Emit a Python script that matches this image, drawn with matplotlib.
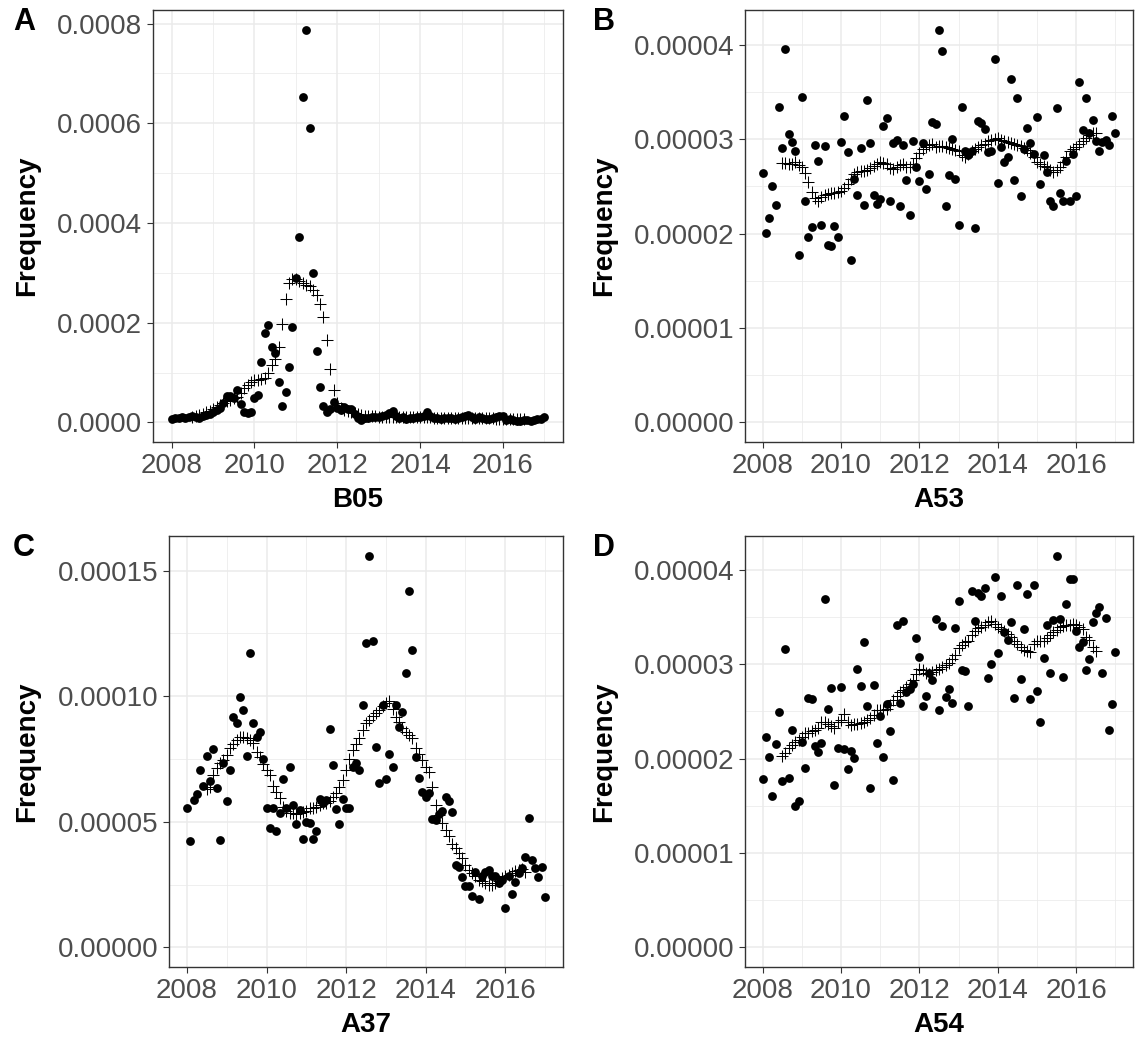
import numpy as np
import pandas as pd
import matplotlib
matplotlib.use("Agg")
import matplotlib.pyplot as plt
import matplotlib.ticker as ticker

DPI = 100
WIDTH_PX = 1137
HEIGHT_PX = 1041

plt.rcParams['font.family'] = ['Liberation Sans', 'DejaVu Sans']

# ─────────────────────────────────────────────────────────────────
#  数据（单位 1e-6，月度，2008-01 .. 2017-01；十字为 13 月移动平均）
# ─────────────────────────────────────────────────────────────────
UNIT = 1e-6
dates = pd.date_range('2008-01-01', periods=109, freq='MS')
ma_dates = pd.date_range('2008-07-01', periods=97, freq='MS')

b05_points = [
    6, 9, 8, 10, 9, 11, 12, 10, 9, 12, 14, 17,
    20, 24, 29, 39, 52, 53, 49, 65, 37, 20, 19, 21,
    49, 55, 122, 179, 196, 151, 139, 80, 32, 60, 112, 192,
    289, 371, 652, 788, 590, 299, 144, 71, 32, 21, 27, 41,
    29, 25, 30, 26, 27, 16, 8, 5, 8, 9, 10, 11,
    10, 12, 15, 18, 22, 12, 8, 10, 7, 8, 9, 11,
    10, 12, 20, 12, 9, 8, 7, 8, 9, 8, 6, 9,
    11, 13, 15, 10, 6, 11, 9, 6, 7, 8, 10, 12,
    13, 4, 6, 4, 3, 2, 4, 5, 3, 4, 6, 7,
    10,
]
b05_ma = [
    10, 12, 14, 17, 20, 23, 26, 30, 34, 38, 42, 45, 48, 51,
    59, 69, 75, 80, 84, 86, 88, 90, 99, 115, 128, 152,
    198, 248, 280, 287, 288, 283, 279, 276, 273, 266, 256, 238, 212, 166, 107, 64,
    38, 28, 24, 22, 20, 18, 16, 14, 13, 12,
    12, 12, 11, 11, 11, 11, 11, 10, 10, 10, 10, 10,
    10, 10, 10, 10, 10, 10, 9, 9, 9, 9, 9, 9,
    9, 9, 9, 9, 9, 9, 9, 9, 8, 8, 8, 8,
    7, 7, 7, 7, 6, 6, 6, 6, 6,
]

a53_points = [
    26.4, 20.1, 21.7, 25.0, 23.0, 33.4, 29.1, 39.5, 30.5, 29.7, 28.7, 17.7,
    34.5, 23.4, 19.6, 20.7, 29.4, 27.7, 20.9, 29.3, 18.8, 18.7, 20.8, 19.6,
    29.7, 32.5, 28.6, 17.2, 25.8, 24.1, 29.1, 23.0, 34.1, 29.6, 24.1, 23.1,
    23.7, 31.4, 32.2, 23.5, 29.6, 29.9, 22.9, 29.4, 25.7, 22.0, 29.8, 27.1,
    25.6, 29.6, 24.7, 26.3, 31.8, 31.6, 41.6, 39.3, 22.9, 26.2, 30.0, 25.8,
    20.9, 33.4, 28.7, 28.3, 28.7, 20.6, 31.9, 31.7, 31.1, 28.6, 28.7, 38.5,
    25.4, 29.2, 27.6, 28.1, 36.4, 25.7, 34.4, 24.0, 29.0, 31.2, 29.6, 28.4,
    32.3, 25.2, 28.3, 26.5, 23.4, 22.9, 33.3, 24.3, 23.4, 27.7, 23.4, 28.4,
    24.0, 36.1, 31.0, 34.4, 30.6, 32.0, 29.8, 28.7, 29.7, 29.9, 29.4, 32.4,
    30.7,
]
a53_ma = [
    27.5, 27.5, 27.4, 27.4, 27.6, 27.3, 27.1, 26.4, 25.5, 24.4, 23.8, 23.5,
    23.9, 24.1, 24.2, 24.3, 24.3, 24.4, 24.5, 24.8, 25.3, 25.8, 26.3, 26.5,
    26.6, 26.6, 26.7, 26.9, 27.2, 27.4, 27.6, 27.5, 27.4, 26.9, 26.8, 27.1,
    27.3, 27.4, 27.1, 27.1, 27.4, 28.0, 28.5, 29.0, 29.2, 29.4, 29.5, 29.2,
    29.3, 29.3, 29.2, 29.1, 29.0, 28.9, 28.7, 28.3, 28.1, 28.4, 28.7, 29.0,
    29.2, 29.4, 29.5, 29.8, 29.9, 30.0, 30.1, 29.9, 29.8, 29.7, 29.6, 29.5,
    29.4, 29.3, 29.1, 28.8, 28.5, 28.1, 27.6, 27.4, 27.2, 27.0, 26.7, 26.5,
    26.7, 27.1, 27.6, 28.1, 28.7, 29.0, 29.2, 29.5, 29.8, 30.1, 30.4, 30.6,
    30.7,
]

a37_points = [
    55.4, 42.2, 58.5, 61.1, 70.6, 64.3, 76.2, 66.4, 78.8, 63.4, 42.9, 73.3,
    58.1, 70.6, 91.8, 89.4, 99.7, 94.7, 76.2, 117.2, 89.4, 83.9, 85.8, 74.9,
    55.7, 47.5, 55.7, 46.2, 53.7, 66.9, 55.5, 72.0, 56.7, 49.1, 54.8, 43.1,
    50.1, 49.7, 43.1, 46.2, 59.0, 57.4, 58.5, 86.9, 72.6, 55.0, 49.1, 59.0,
    55.7, 55.7, 72.0, 73.5, 70.6, 96.4, 121.2, 156.0, 121.8, 79.6, 65.3, 96.7,
    67.1, 77.0, 72.0, 96.7, 87.8, 93.7, 109.4, 142.1, 118.3, 75.7, 67.3, 62.0,
    60.0, 61.4, 51.1, 50.8, 53.0, 54.5, 60.0, 58.4, 53.8, 32.9, 32.0, 28.0,
    24.3, 24.3, 20.6, 29.9, 19.4, 28.3, 29.9, 30.9, 28.3, 28.3, 25.7, 26.7,
    15.5, 28.3, 21.4, 26.0, 29.6, 31.6, 36.0, 51.5, 34.9, 31.6, 27.9, 32.0,
    20.1,
]
a37_ma = [
    63.0, 63.8, 68.6, 71.3, 73.5, 74.6, 76.6, 79.2, 81.0, 82.5, 83.9, 83.9,
    83.2, 82.5, 81.5, 77.9, 75.9, 73.0, 70.6, 68.6, 64.3, 62.0, 59.4, 56.1,
    54.5, 53.7, 53.4, 53.2, 53.4, 54.1, 54.5, 55.4, 55.7, 56.1, 56.7, 57.4,
    57.4, 58.1, 60.0, 61.4, 63.8, 66.7, 70.6, 75.0, 78.5, 81.0, 83.5, 86.5,
    89.2, 90.5, 92.1, 93.4, 94.7, 96.0, 97.4, 98.1, 95.1, 91.8, 89.8, 87.2,
    85.8, 84.5, 83.2, 79.2, 77.2, 74.6, 72.0, 70.0, 63.8, 56.7, 52.8, 49.7,
    46.8, 44.2, 41.3, 39.5, 37.6, 35.6, 32.9, 31.0, 29.6, 28.3, 27.0, 26.3,
    25.7, 25.0, 25.0, 25.7, 26.3, 27.6, 28.3, 29.0, 29.6, 30.3, 30.7, 31.2,
    29.9,
]

a54_points = [
    17.8, 22.3, 20.2, 16.0, 21.5, 24.9, 17.6, 31.6, 17.9, 23.0, 15.0, 15.5,
    21.8, 19.0, 26.4, 26.3, 21.3, 20.7, 21.7, 36.9, 25.3, 27.5, 17.2, 21.1,
    27.6, 21.0, 18.9, 20.8, 20.1, 29.5, 27.7, 32.3, 25.6, 16.9, 27.8, 21.7,
    24.5, 20.2, 25.8, 22.9, 17.7, 34.1, 25.9, 34.6, 27.0, 27.4, 27.9, 32.8,
    30.8, 25.6, 26.6, 29.1, 28.3, 34.8, 25.1, 34.0, 26.5, 27.4, 25.9, 33.8,
    36.7, 29.4, 29.3, 25.6, 37.7, 34.6, 37.5, 37.2, 38.1, 28.5, 30.0, 39.2,
    31.2, 37.2, 33.4, 32.6, 34.5, 26.4, 38.4, 28.4, 33.7, 37.4, 26.3, 38.4,
    27.2, 23.9, 30.7, 34.1, 29.1, 34.7, 41.5, 34.8, 28.6, 36.4, 39.0, 39.0,
    33.5, 31.8, 32.4, 29.4, 30.6, 34.5, 35.4, 36.1, 29.1, 34.9, 23.0, 25.8,
    31.3,
]
a54_ma = [
    20.3, 20.6, 21.1, 21.4, 21.8, 22.0, 22.3, 22.7, 22.7, 22.9, 23.0, 23.2,
    23.9, 23.9, 23.7, 23.4, 23.2, 23.9, 24.1, 24.7, 23.9, 23.6, 23.7, 23.7,
    23.8, 23.9, 24.1, 24.3, 24.6, 25.1, 25.1, 25.1, 25.3, 25.7, 26.2, 26.6,
    27.0, 27.3, 27.6, 27.9, 28.3, 29.0, 29.5, 29.4, 29.1, 29.0, 29.2, 29.4,
    29.5, 29.7, 29.9, 30.1, 30.6, 31.0, 31.7, 32.0, 32.4, 32.5, 33.1, 33.5,
    33.8, 33.9, 34.1, 34.5, 34.6, 34.3, 33.9, 33.7, 33.5, 33.2, 32.9, 32.5,
    32.1, 31.8, 31.5, 31.4, 31.3, 32.1, 32.5, 32.5, 32.5, 32.8, 33.1, 33.4,
    33.6, 33.9, 34.0, 34.1, 34.1, 34.3, 34.1, 33.9, 33.7, 32.9, 32.6, 31.8,
    31.4,
]

x_breaks = [2008, 2010, 2012, 2014, 2016]
x_minor = [2009, 2011, 2013, 2015, 2017]
b05_yticks = [0, 0.0002, 0.0004, 0.0006, 0.0008]
small_yticks = [0, 0.00001, 0.00002, 0.00003, 0.00004]
a37_yticks = [0, 0.00005, 0.0001, 0.00015]


# ─────────────────────────────────────────────────────────────────
#  工具函数
# ─────────────────────────────────────────────────────────────────

def _decimal_year(d):
    return d.year + (d.month - 1) / 12.0


def _fx(px):
    return px / WIDTH_PX


def _fy(py):
    return 1 - py / HEIGHT_PX


def _style_axes(ax, yticks, fmt, ymax):
    """theme_bw 风格"""
    ax.set_xlim(2007.55, 2017.45)
    ax.set_ylim(-0.05 * ymax, 1.05 * ymax)
    ax.xaxis.set_major_locator(ticker.FixedLocator(x_breaks))
    ax.xaxis.set_minor_locator(ticker.FixedLocator(x_minor))
    ax.yaxis.set_major_locator(ticker.FixedLocator(yticks))
    step = yticks[1] - yticks[0]
    ax.yaxis.set_minor_locator(ticker.FixedLocator(
        [t + step / 2 for t in yticks]))
    ax.yaxis.set_major_formatter(ticker.FormatStrFormatter(fmt))
    ax.grid(which='major', color='#EBEBEB', linewidth=1.1)
    ax.grid(which='minor', color='#EBEBEB', linewidth=0.55)
    ax.set_axisbelow(True)
    for sp in ax.spines.values():
        sp.set_color('#333333')
        sp.set_linewidth(1.0)
    ax.tick_params(which='major', length=4.3, width=0.8, color='#333333',
                   labelsize=20, labelcolor='#4D4D4D', pad=3.5)
    ax.tick_params(which='minor', length=0)


# ─────────────────────────────────────────────────────────────────
#  绘图
# ─────────────────────────────────────────────────────────────────

panels = [
    # tag, name, points, ma, yticks, fmt, (left, top, right, bottom) px
    ('A', 'B05', b05_points, b05_ma, b05_yticks, '%.4f', (153, 10, 563, 442)),
    ('B', 'A53', a53_points, a53_ma, small_yticks, '%.5f', (745, 10, 1133, 442)),
    ('C', 'A37', a37_points, a37_ma, a37_yticks, '%.5f', (169, 536, 563, 967)),
    ('D', 'A54', a54_points, a54_ma, small_yticks, '%.5f', (745, 536, 1133, 967)),
]

x_pts = _decimal_year(dates)
x_ma = _decimal_year(ma_dates)

fig = plt.figure(figsize=(WIDTH_PX / DPI, HEIGHT_PX / DPI), dpi=DPI)

for tag, name, pts, ma, yticks, fmt, (l, t, r, b) in panels:
    ax = fig.add_axes([_fx(l), _fy(b), _fx(r) - _fx(l), _fy(t) - _fy(b)])
    y_pts = np.array(pts) * UNIT
    y_ma = np.array(ma) * UNIT
    ax.scatter(x_pts, y_pts, s=40, color='black', linewidths=0, zorder=3)
    ax.plot(x_ma, y_ma, linestyle='none', marker='+', markersize=9,
            markeredgewidth=0.75, color='black', zorder=4)
    _style_axes(ax, yticks, fmt, y_pts.max())

    # 轴标题、面板标签
    left_col = l < 600
    fig.text(_fx(27 if left_col else 604), _fy((t + b) / 2), 'Frequency',
             rotation=90, ha='center', va='center', fontsize=20,
             fontweight='bold')
    fig.text(_fx((l + r) / 2), _fy(b + 58), name, ha='center', va='center',
             fontsize=20, fontweight='bold')
    fig.text(_fx(24 if left_col else 604), _fy(t + 12), tag, ha='center',
             va='center', fontsize=22, fontweight='bold')

fig.savefig('out.png', dpi=DPI)
